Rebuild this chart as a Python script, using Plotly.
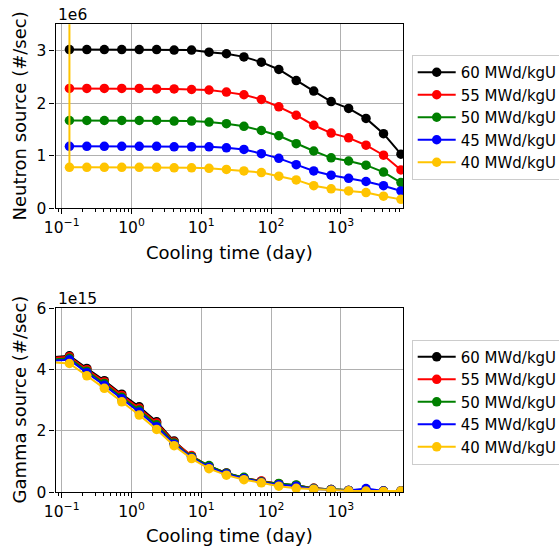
import math
import plotly.graph_objects as go

W, H = 559, 550

# ---------------- data ----------------
series_names = ["60 MWd/kgU", "55 MWd/kgU", "50 MWd/kgU", "45 MWd/kgU", "40 MWd/kgU"]
series_colors = ["#000000", "#ff0000", "#008000", "#0000ff", "#ffc400"]

# cooling time (day)
time_day = [0.129, 0.229, 0.408, 0.725, 1.29, 2.29, 4.08, 7.25, 12.9, 22.9,
            40.8, 72.5, 129, 229, 408, 725, 1290, 2290, 4080, 7250]

# neutron source, units of 1e6 #/sec
NEUTRON_SCALE = 1e6
neutron_60 = [3.02, 3.02, 3.02, 3.02, 3.02, 3.02, 3.01, 3.01, 2.97, 2.94,
              2.88, 2.78, 2.64, 2.43, 2.23, 2.03, 1.90, 1.71, 1.42, 1.03]
neutron_55 = [2.28, 2.28, 2.28, 2.28, 2.28, 2.27, 2.27, 2.26, 2.25, 2.21,
              2.16, 2.07, 1.93, 1.77, 1.58, 1.43, 1.34, 1.20, 1.01, 0.73]
neutron_50 = [1.67, 1.67, 1.67, 1.67, 1.67, 1.67, 1.66, 1.66, 1.64, 1.61,
              1.56, 1.48, 1.38, 1.23, 1.09, 0.96, 0.90, 0.82, 0.69, 0.49]
neutron_45 = [1.18, 1.18, 1.18, 1.18, 1.18, 1.18, 1.17, 1.17, 1.17, 1.15,
              1.12, 1.04, 0.95, 0.83, 0.71, 0.63, 0.57, 0.51, 0.43, 0.33]
# the 40 MWd/kgU series starts with an off-scale value (vertical line at left)
neutron_time_40 = [0.1289] + time_day
neutron_40 = [200.0, 0.78, 0.78, 0.78, 0.78, 0.78, 0.78, 0.77, 0.77, 0.76, 0.74,
              0.71, 0.68, 0.61, 0.54, 0.43, 0.37, 0.33, 0.30, 0.23, 0.17]

# gamma source, units of 1e15 #/sec (first point lies left of the axis range)
GAMMA_SCALE = 1e15
gamma_time = [0.05] + time_day
gamma_60 = [4.38, 4.45, 4.04, 3.64, 3.20, 2.79, 2.30, 1.67, 1.17, 0.84, 0.63,
            0.47, 0.36, 0.27, 0.22, 0.13, 0.09, 0.06, 0.05, 0.04, 0.04]
gamma_55 = [4.35, 4.42, 4.00, 3.60, 3.16, 2.74, 2.26, 1.64, 1.20, 0.85, 0.62,
            0.46, 0.37, 0.28, 0.22, 0.13, 0.09, 0.06, 0.05, 0.04, 0.04]
gamma_50 = [4.31, 4.37, 3.95, 3.55, 3.10, 2.68, 2.20, 1.61, 1.16, 0.87, 0.62,
            0.49, 0.34, 0.29, 0.24, 0.12, 0.09, 0.06, 0.05, 0.04, 0.04]
gamma_45 = [4.28, 4.32, 3.90, 3.49, 3.05, 2.62, 2.14, 1.57, 1.13, 0.82, 0.60,
            0.45, 0.33, 0.25, 0.20, 0.11, 0.08, 0.06, 0.12, 0.04, 0.04]
gamma_40 = [4.26, 4.20, 3.80, 3.39, 2.95, 2.52, 2.05, 1.52, 1.10, 0.77, 0.56,
            0.41, 0.31, 0.20, 0.13, 0.10, 0.07, 0.05, 0.04, 0.03, 0.04]

x_tickvals = [0.1, 1, 10, 100, 1000]
x_ticktext = ["10<sup>\u22121</sup>", "10<sup>0</sup>", "10<sup>1</sup>",
              "10<sup>2</sup>", "10<sup>3</sup>"]
neutron_ticks = [0, 1, 2, 3]
gamma_ticks = [0, 2, 4, 6]

# ---------------- figure ----------------
FONT = "DejaVu Sans"
fig = go.Figure()

neutron_x = [time_day, time_day, time_day, time_day, neutron_time_40]
neutron_y = [neutron_60, neutron_55, neutron_50, neutron_45, neutron_40]
gamma_y = [gamma_60, gamma_55, gamma_50, gamma_45, gamma_40]

for name, col, xs, ys in zip(series_names, series_colors, neutron_x, neutron_y):
    fig.add_trace(go.Scatter(
        x=xs, y=[v * NEUTRON_SCALE for v in ys], name=name,
        mode="lines+markers", line=dict(color=col, width=2),
        marker=dict(color=col, size=9.5), xaxis="x", yaxis="y", legend="legend"))

for name, col, ys in zip(series_names, series_colors, gamma_y):
    fig.add_trace(go.Scatter(
        x=gamma_time, y=[v * GAMMA_SCALE for v in ys], name=name,
        mode="lines+markers", line=dict(color=col, width=2),
        marker=dict(color=col, size=9.5), xaxis="x2", yaxis="y2", legend="legend2"))

minor_vals = [m * 10 ** e for e in range(-2, 4) for m in range(2, 10)]

def px_x(p):
    return p / W

def px_y(p):
    return 1 - p / H

L, R = 55.5, 403.3
xrange_log = [-1.089, 3.894]

def xaxis_dict(anchor):
    return dict(
        domain=[px_x(L), px_x(R)], anchor=anchor, type="log", range=xrange_log,
        tickmode="array", tickvals=x_tickvals, ticktext=x_ticktext,
        ticks="outside", ticklen=5, tickwidth=1.1, tickcolor="black",
        showline=True, linecolor="black", linewidth=1.1, mirror=True,
        showgrid=True, gridcolor="#b0b0b0", gridwidth=1, zeroline=False,
        tickfont=dict(family=FONT, size=15.5, color="black"),
        minor=dict(tickmode="array", tickvals=minor_vals, ticks="outside",
                   ticklen=3, tickwidth=0.8, tickcolor="black", showgrid=False),
    )

def yaxis_dict(anchor, top, bottom, rng, ticks, scale):
    return dict(
        domain=[px_y(bottom), px_y(top)], anchor=anchor, range=rng,
        tickmode="array", tickvals=[t * scale for t in ticks],
        ticktext=[str(t) for t in ticks],
        ticks="outside", ticklen=5, tickwidth=1.1, tickcolor="black",
        showline=True, linecolor="black", linewidth=1.1, mirror=True,
        showgrid=True, gridcolor="#b0b0b0", gridwidth=1, zeroline=False,
        tickfont=dict(family=FONT, size=15.5, color="black"),
    )

def legend_dict(top_px):
    return dict(
        x=px_x(411.7), y=px_y(top_px), xanchor="left", yanchor="top",
        bgcolor="rgba(255,255,255,0.8)", bordercolor="#cccccc", borderwidth=1,
        font=dict(family=FONT, size=15, color="black"), itemwidth=38,
        tracegroupgap=0,
    )

ann_font = dict(family=FONT, size=18, color="black")
off_font = dict(family=FONT, size=15.5, color="black")
annotations = [
    dict(text="Neutron source (#/sec)", x=px_x(18.5), y=px_y(116), textangle=-90,
         font=ann_font),
    dict(text="Gamma source (#/sec)", x=px_x(18.5), y=px_y(400), textangle=-90,
         font=ann_font),
    dict(text="Cooling time (day)", x=px_x(229.5), y=px_y(252), font=ann_font),
    dict(text="Cooling time (day)", x=px_x(229.5), y=px_y(535), font=ann_font),
    dict(text="1e6", x=px_x(55.5), y=px_y(14.5), xanchor="left", font=off_font),
    dict(text="1e15", x=px_x(55.5), y=px_y(298.5), xanchor="left", font=off_font),
]
for a in annotations:
    a.update(xref="paper", yref="paper", showarrow=False)
    a.setdefault("xanchor", "center")
    a.setdefault("yanchor", "middle")

fig.update_layout(
    width=W, height=H,
    margin=dict(l=0, r=0, t=0, b=0, autoexpand=False),
    paper_bgcolor="white", plot_bgcolor="white",
    font=dict(family=FONT, size=15, color="black"),
    xaxis=xaxis_dict("y"),
    yaxis=yaxis_dict("x", 24.3, 208.3, [0, 3.5 * NEUTRON_SCALE], neutron_ticks, NEUTRON_SCALE),
    xaxis2=xaxis_dict("y2"),
    yaxis2=yaxis_dict("x2", 308.3, 492.3, [0, 6 * GAMMA_SCALE], gamma_ticks, GAMMA_SCALE),
    legend=legend_dict(55.0),
    legend2=legend_dict(339.6),
    annotations=annotations,
    showlegend=True,
)

fig.write_html("out.html")
